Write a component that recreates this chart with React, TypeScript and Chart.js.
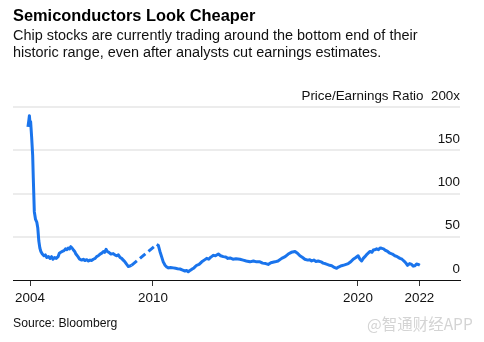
import React, { useEffect, useRef } from "react";
import { Chart, registerables } from "chart.js";

Chart.register(...registerables);

const title = "Semiconductors Look Cheaper";
const subtitleLines = [
  "Chip stocks are currently trading around the bottom end of their",
  "historic range, even after analysts cut earnings estimates.",
];
const source = "Source: Bloomberg";
const watermark = "@智通财经APP";
const yAxisTitle = "Price/Earnings Ratio";

const yTicks = [0, 50, 100, 150, 200];
const xTickValues = [2004, 2010, 2020, 2023];
const xTickLabels = ["2004", "2010", "2020", "2022"];

// decimal years
const dates = [
  2003.9, 2003.95, 2003.97, 2004.0, 2004.03, 2004.08, 2004.13, 2004.16, 2004.21, 2004.27,
  2004.33, 2004.38, 2004.43, 2004.48, 2004.53, 2004.6, 2004.68, 2004.75, 2004.82, 2004.9,
  2004.98, 2005.05, 2005.12, 2005.2, 2005.28, 2005.37, 2005.43, 2005.5, 2005.57, 2005.66,
  2005.73, 2005.8, 2005.86, 2005.93, 2005.99, 2006.05, 2006.11, 2006.18, 2006.24, 2006.34,
  2006.42, 2006.52, 2006.6, 2006.68, 2006.77, 2006.85, 2006.93, 2007.0, 2007.09, 2007.18,
  2007.25, 2007.33, 2007.42, 2007.5, 2007.58, 2007.64, 2007.71, 2007.77, 2007.85, 2007.95,
  2008.06, 2008.15, 2008.22, 2008.31, 2008.4, 2008.47, 2008.55, 2008.63, 2008.72, 2008.8,
  2008.86, 2008.95, 2009.5, 2010.18, 2010.26, 2010.34, 2010.42, 2010.5, 2010.59, 2010.67,
  2010.75, 2010.85, 2010.99, 2011.1, 2011.2, 2011.32, 2011.45, 2011.56, 2011.64, 2011.72,
  2011.8, 2011.89, 2012.0, 2012.13, 2012.25, 2012.38, 2012.5, 2012.62, 2012.72, 2012.8,
  2012.86, 2012.95, 2013.05, 2013.19, 2013.3, 2013.43, 2013.55, 2013.65, 2013.76, 2013.9,
  2014.05, 2014.24, 2014.4, 2014.55, 2014.73, 2014.9, 2015.05, 2015.22, 2015.35, 2015.5,
  2015.62, 2015.75, 2015.95, 2016.1, 2016.28, 2016.45, 2016.6, 2016.75, 2016.93, 2017.05,
  2017.17, 2017.3, 2017.41, 2017.55, 2017.65, 2017.74, 2017.85, 2017.95, 2018.06, 2018.2,
  2018.3, 2018.39, 2018.5, 2018.62, 2018.72, 2018.85, 2018.96, 2019.05, 2019.2, 2019.35,
  2019.53, 2019.65, 2019.77, 2019.9, 2020.01, 2020.1, 2020.18, 2020.26, 2020.34, 2020.45,
  2020.59, 2020.68, 2020.75, 2020.83, 2020.91, 2021.0, 2021.08, 2021.16, 2021.25, 2021.32,
  2021.45, 2021.56, 2021.68, 2021.8, 2021.92, 2022.05, 2022.15, 2022.29, 2022.36, 2022.42,
  2022.52, 2022.62, 2022.7, 2022.78, 2022.86, 2022.94, 2023.02,
];

const peRatio: (number | null)[] = [
  177, 186, 190, 181, 183, 165, 144, 118, 79, 70,
  67, 60, 45, 37, 33, 30, 28, 29, 26, 27,
  25, 27, 24, 26, 25, 27, 31, 32, 33, 34,
  36, 35, 37, 36, 38.5, 37, 35, 33, 30, 27,
  24, 23, 24, 22.5, 23.5, 22, 23, 22.5, 24, 25,
  27, 28, 30, 31, 33, 32, 35.5, 33, 32, 30,
  30.5, 29, 28, 29, 26, 25, 23, 21, 18, 15.5,
  16, 17, null, 41, 40, 33, 27, 21, 17, 15,
  14, 14.5, 14, 13.5, 13, 12.7, 11.5, 10.4, 11, 9.6,
  11, 12.3, 14, 17, 18, 21, 23, 25, 24, 26,
  27, 28.5, 28, 30, 28, 27, 26.5, 25, 25.5, 24,
  24.5, 24, 23, 22, 21, 22, 21, 21, 19.5, 19,
  18, 20, 21, 22, 25, 27, 30, 32, 33, 31,
  28, 26, 24, 23, 23.5, 22, 23, 21.5, 22, 21,
  19.5, 19, 18, 17, 16.5, 14.5, 13.5, 15, 16.5, 17.5,
  19, 21, 24, 26, 28, 24, 22, 25, 27, 30,
  33, 32, 34.6, 35, 36, 35, 37, 36.6, 36, 34.6,
  33, 31, 30, 28, 27, 25, 24, 21, 19, 17,
  19, 18, 16, 16.5, 18.5, 18, 17,
];

const FONT = "'Liberation Sans', Arial, Helvetica, sans-serif";

export default function App() {
  const canvasRef = useRef<HTMLCanvasElement | null>(null);

  useEffect(() => {
    document.body.style.margin = "0";
    const canvas = canvasRef.current;
    if (!canvas) return;
    const chart = new Chart(canvas, {
      type: "line",
      data: {
        datasets: [
          {
            data: dates.map((d, i) => ({ x: d, y: peRatio[i] })),
            borderColor: "#1a74ec",
            borderWidth: 3,
            pointRadius: 0,
            tension: 0,
            spanGaps: true,
            borderJoinStyle: "round",
            borderCapStyle: "butt",
            segment: {
              borderDash: (ctx: any) =>
                ctx.p0.skip || ctx.p1.skip ? [7, 4] : undefined,
            },
          } as any,
        ],
      },
      options: {
        animation: false,
        responsive: false,
        maintainAspectRatio: false,
        layout: { padding: { left: 13, right: 24, top: 107, bottom: 0 } },
        plugins: { legend: { display: false }, tooltip: { enabled: false } },
        scales: {
          x: {
            type: "linear",
            min: 2003.17,
            max: 2024.98,
            afterBuildTicks: (scale: any) => {
              scale.ticks = xTickValues.map((v) => ({ value: v }));
            },
            afterFit: (scale: any) => {
              scale.height = 62;
            },
            ticks: {
              autoSkip: false,
              maxRotation: 0,
              padding: 4,
              color: "#111",
              font: { family: FONT, size: 13.4 },
              callback: (value: any) => {
                const i = xTickValues.indexOf(Number(value));
                return i >= 0 ? xTickLabels[i] : "";
              },
            },
            grid: {
              display: true,
              drawOnChartArea: false,
              drawTicks: true,
              tickLength: 6,
              color: "#333",
              lineWidth: 1,
            },
            border: { display: true, color: "#111", width: 1 },
          },
          y: {
            position: "right",
            min: 0,
            max: 200,
            afterBuildTicks: (scale: any) => {
              scale.ticks = yTicks.map((v) => ({ value: v }));
            },
            afterFit: (scale: any) => {
              scale.width = 0;
            },
            ticks: {
              mirror: true,
              padding: 0,
              labelOffset: -11,
              color: "#111",
              font: { family: FONT, size: 13.4 },
              callback: (value: any) =>
                Number(value) === 200 ? yAxisTitle + "  200x" : String(value),
            },
            grid: {
              drawTicks: false,
              lineWidth: 2,
              color: (ctx: any) =>
                ctx.tick && ctx.tick.value === 0 ? "rgba(0,0,0,0)" : "#ececec",
            },
            border: { display: false },
          },
        },
      },
    });
    return () => chart.destroy();
  }, []);

  return (
    <div
      style={{
        position: "absolute",
        left: 0,
        top: 0,
        width: 484,
        height: 342,
        background: "#fff",
        fontFamily: FONT,
        overflow: "hidden",
      }}
    >
      <canvas
        ref={canvasRef}
        width={484}
        height={342}
        style={{ position: "absolute", left: 0, top: 0, width: 484, height: 342 }}
      />
      <div
        style={{
          position: "absolute",
          left: 13,
          top: 6,
          fontSize: 16.4,
          lineHeight: "18px",
          fontWeight: 700,
          color: "#000",
          whiteSpace: "nowrap",
        }}
      >
        {title}
      </div>
      <div
        style={{
          position: "absolute",
          left: 13,
          top: 27,
          fontSize: 14.45,
          lineHeight: "16.8px",
          color: "#111",
          whiteSpace: "nowrap",
        }}
      >
        {subtitleLines.map((l, i) => (
          <div key={i}>{l}</div>
        ))}
      </div>
      <div
        style={{
          position: "absolute",
          left: 13,
          top: 316,
          fontSize: 12.2,
          lineHeight: "15px",
          color: "#111",
          whiteSpace: "nowrap",
        }}
      >
        {source}
      </div>
      <div
        style={{
          position: "absolute",
          left: 367,
          top: 313,
          fontSize: 15.5,
          lineHeight: "20px",
          color: "#d4d4d4",
          fontFamily: "'Noto Sans CJK SC', " + FONT,
          whiteSpace: "nowrap",
        }}
      >
        {watermark}
      </div>
    </div>
  );
}
